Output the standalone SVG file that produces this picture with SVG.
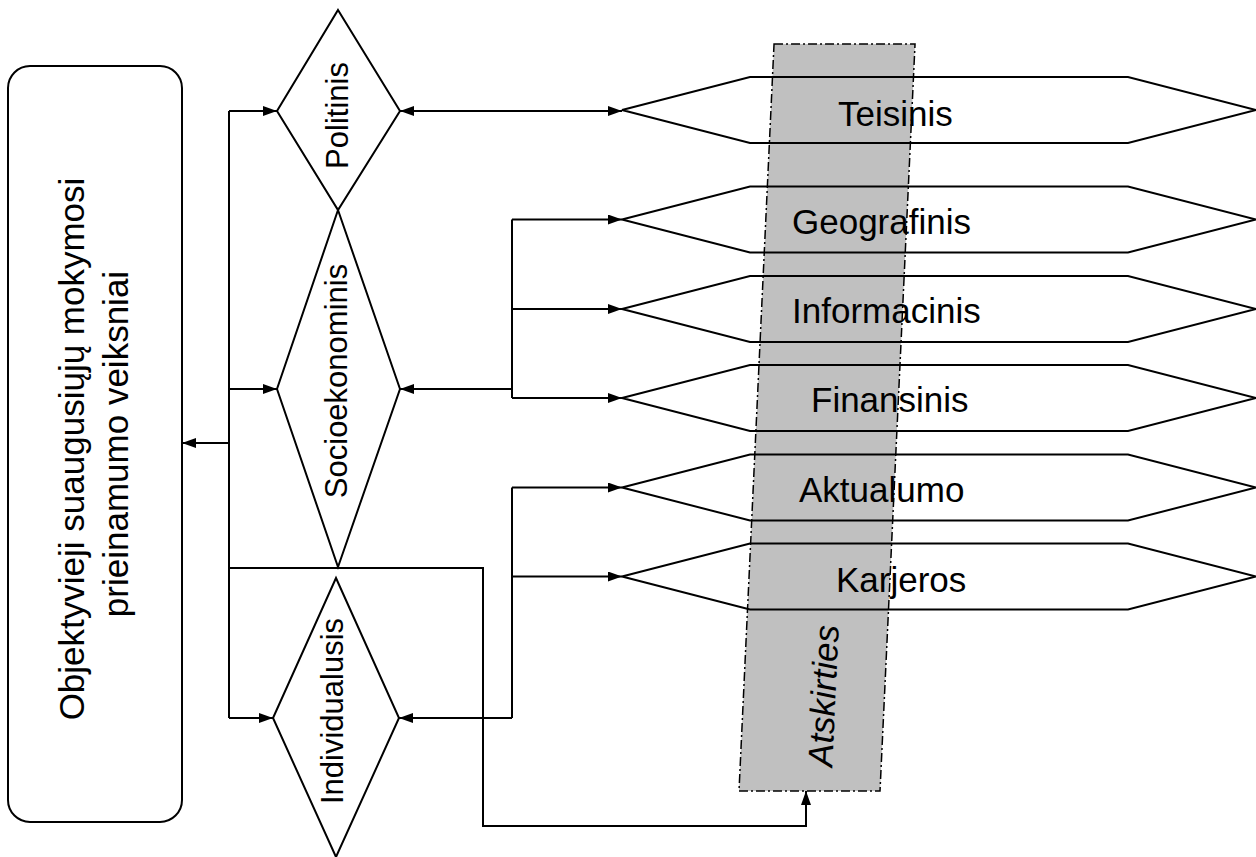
<svg xmlns="http://www.w3.org/2000/svg" width="1256" height="857" viewBox="0 0 1256 857">
<style>
.shape{fill:none;stroke:#000;stroke-width:2}
.box{fill:#fff;stroke:#000;stroke-width:2}
.conn{fill:none;stroke:#000;stroke-width:2}
.lbl{font-family:"Liberation Sans",Arial,sans-serif;font-size:35px;fill:#000}
.dl{font-family:"Liberation Sans",Arial,sans-serif;font-size:31px;fill:#000}
.it{font-style:italic}
.band{fill:#c0c0c0;stroke:#000;stroke-width:1.5;stroke-dasharray:9 3 2 3}
</style>
<defs>
<marker id="ah" markerUnits="userSpaceOnUse" markerWidth="14" markerHeight="10" refX="14" refY="5" orient="auto-start-reverse">
<path d="M0,0 L14,5 L0,10 z" fill="#000"/>
</marker>
</defs>
<rect width="1256" height="857" fill="#fff"/>

<g id="atskirties" transform="translate(810,791) skewX(-2.685)">
<rect class="band" x="-71" y="-747" width="141" height="747"/>
<text class="lbl it" transform="translate(21,-95) rotate(-90)" text-anchor="middle">Atskirties</text>
</g>

<g id="objektyvieji">
<rect class="box" x="8" y="66" width="174" height="756" rx="22" ry="22"/>
<text class="lbl" transform="translate(84,449) rotate(-90)" text-anchor="middle">Objektyvieji suaugusiųjų mokymosi</text>
<text class="lbl" transform="translate(128,444) rotate(-90)" text-anchor="middle">prieinamumo veiksniai</text>
</g>

<g id="politinis">
<polygon class="shape" points="338,10 400,111 338,210 277,111"/>
<text class="dl" transform="translate(348,115.5) rotate(-90)" text-anchor="middle">Politinis</text>
</g>
<g id="socioekonominis">
<polygon class="shape" points="338,210 400,389 338,567 277,389"/>
<text class="dl" transform="translate(347,381) rotate(-90)" text-anchor="middle">Socioekonominis</text>
</g>
<g id="individualusis">
<polygon class="shape" points="336,578 399,718 336,857 273,718"/>
<text class="dl" transform="translate(343,711) rotate(-90)" text-anchor="middle">Individualusis</text>
</g>

<g id="teisinis">
<polygon class="shape" points="622,110 750,77 1128,77 1256,110 1128,143 750,143"/>
<text class="lbl" x="838" y="126">Teisinis</text>
</g>
<g id="geografinis">
<polygon class="shape" points="622,219.5 750,186.5 1128,186.5 1256,219.5 1128,252.5 750,252.5"/>
<text class="lbl" x="792" y="234">Geografinis</text>
</g>
<g id="informacinis">
<polygon class="shape" points="622,309 750,276 1128,276 1256,309 1128,342 750,342"/>
<text class="lbl" x="792" y="323">Informacinis</text>
</g>
<g id="finansinis">
<polygon class="shape" points="622,398 750,365 1128,365 1256,398 1128,431 750,431"/>
<text class="lbl" x="811" y="412">Finansinis</text>
</g>
<g id="aktualumo">
<polygon class="shape" points="622,487.5 750,454.5 1128,454.5 1256,487.5 1128,520.5 750,520.5"/>
<text class="lbl" x="799" y="502">Aktualumo</text>
</g>
<g id="karjeros">
<polygon class="shape" points="622,576.5 750,543.5 1128,543.5 1256,576.5 1128,609.5 750,609.5"/>
<text class="lbl" x="836" y="592">Karjeros</text>
</g>

<g id="connectors">
<path class="conn" d="M229,443 H182" marker-end="url(#ah)"/>
<path class="conn" d="M229,111 V718"/>
<path class="conn" d="M229,111 H277" marker-end="url(#ah)"/>
<path class="conn" d="M229,389 H277" marker-end="url(#ah)"/>
<path class="conn" d="M229,718 H273" marker-end="url(#ah)"/>
<path class="conn" d="M230,568 H483 V826 H806 V791" marker-end="url(#ah)"/>
<path class="conn" d="M400,111 H622" marker-start="url(#ah)" marker-end="url(#ah)"/>
<path class="conn" d="M512,389 H400" marker-end="url(#ah)"/>
<path class="conn" d="M512,219.5 V398"/>
<path class="conn" d="M512,219.5 H622" marker-end="url(#ah)"/>
<path class="conn" d="M512,309 H622" marker-end="url(#ah)"/>
<path class="conn" d="M512,398 H622" marker-end="url(#ah)"/>
<path class="conn" d="M512,487.5 V718"/>
<path class="conn" d="M512,718 H399" marker-end="url(#ah)"/>
<path class="conn" d="M512,487.5 H622" marker-end="url(#ah)"/>
<path class="conn" d="M512,576.5 H622" marker-end="url(#ah)"/>
</g>
</svg>
